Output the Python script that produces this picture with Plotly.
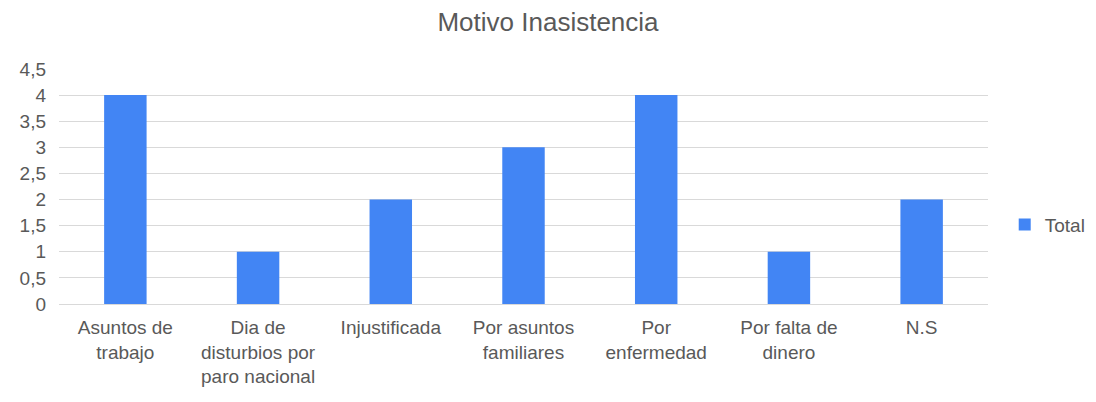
import plotly.graph_objects as go

categories = ["Asuntos de<br>trabajo", "Dia de<br>disturbios por<br>paro nacional", "Injustificada",
              "Por asuntos<br>familiares", "Por<br>enfermedad", "Por falta de<br>dinero", "N.S"]
totals = [4, 1, 2, 3, 4, 1, 2]
y_ticks = [0, 0.5, 1, 1.5, 2, 2.5, 3, 3.5, 4, 4.5]

font_family = "Liberation Sans, Arial, sans-serif"
text_color = "#595959"

fig = go.Figure()
fig.add_trace(go.Bar(x=categories, y=totals, name="Total", marker_color="#4285F4",
                     marker_line_width=0, showlegend=True))

fig.update_layout(
    width=1096, height=402,
    margin=dict(l=59, r=108, t=68, b=98, autoexpand=False),
    paper_bgcolor="white", plot_bgcolor="white",
    separators=", ",
    bargap=0.68,
    title=dict(text="Motivo Inasistencia", x=0.5, xanchor="center", y=0.945, yanchor="middle",
               font=dict(family=font_family, size=26, color=text_color)),
    font=dict(family=font_family, size=19, color=text_color),
    showlegend=True,
    legend=dict(x=1.018, y=0.336, xanchor="left", yanchor="middle",
                font=dict(family=font_family, size=19, color=text_color),
                itemwidth=30),
    xaxis=dict(showgrid=False, showline=True, linecolor="#d9d9d9", linewidth=1, automargin=False,
               ticks="", ticklabelstandoff=6,
               tickfont=dict(size=19, color=text_color), fixedrange=True),
    yaxis=dict(range=[0, 4.519], tickvals=y_ticks, showgrid=True, gridcolor="#d9d9d9", gridwidth=1,
               zeroline=False, showline=False, ticks="", automargin=False, ticklabelstandoff=12,
               tickfont=dict(size=19, color=text_color), fixedrange=True),
)

fig.write_html("out.html", config={"displayModeBar": False},
               post_script="document.body.style.margin='0';")
